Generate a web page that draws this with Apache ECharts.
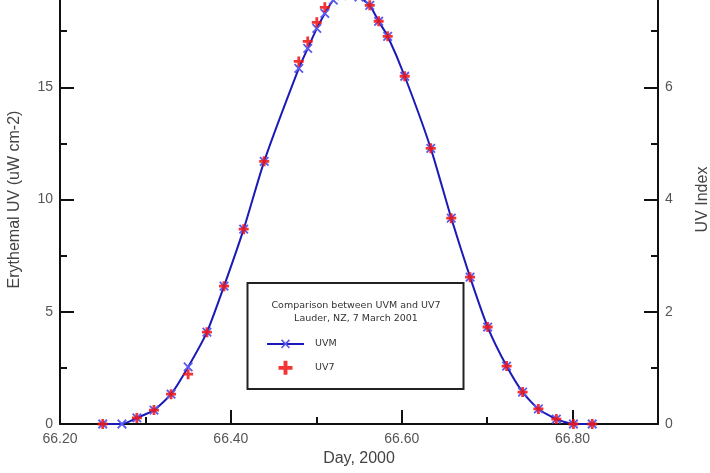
<!DOCTYPE html>
<html>
<head>
<meta charset="utf-8">
<script src="https://cdn.jsdelivr.net/npm/echarts@6/dist/echarts.min.js"></script>
<style>
  html, body { margin: 0; padding: 0; background: #fff; }
  #chart { width: 710px; height: 473px; }
</style>
</head>
<body>
<div id="chart"></div>
<script>
// ---- data ----
var uvmDay = [66.250, 66.2725, 66.290, 66.310, 66.330, 66.350, 66.372, 66.392, 66.415, 66.439,
              66.4795, 66.490, 66.5006, 66.510, 66.520, 66.530, 66.540, 66.550, 66.5626, 66.573,
              66.5836, 66.6035, 66.634, 66.658, 66.680, 66.7006, 66.7228, 66.7415, 66.760, 66.781,
              66.801, 66.823];
var uvmVal = [0.0, 0.0, 0.27, 0.62, 1.33, 2.54, 4.09, 6.14, 8.68, 11.70,
              15.84, 16.73, 17.62, 18.29, 18.88, 19.08, 19.13, 19.02, 18.65, 17.94,
              17.27, 15.49, 12.28, 9.17, 6.54, 4.32, 2.58, 1.42, 0.67, 0.22,
              0.0, 0.0];
var uv7Day = [66.250, 66.290, 66.310, 66.330, 66.350, 66.372, 66.392, 66.415, 66.439,
              66.4795, 66.490, 66.5006, 66.510, 66.5626, 66.573, 66.5836, 66.6035, 66.634,
              66.658, 66.680, 66.7006, 66.7228, 66.7415, 66.760, 66.781, 66.801, 66.823];
var uv7Val = [0.0, 0.27, 0.62, 1.33, 2.22, 4.09, 6.14, 8.68, 11.70,
              16.15, 17.04, 17.89, 18.56, 18.65, 17.94, 17.27, 15.49, 12.28,
              9.17, 6.54, 4.32, 2.58, 1.42, 0.67, 0.22, 0.0, 0.0];
var legendTitle = ['Comparison between UVM and UV7', 'Lauder, NZ, 7 March 2001'];
var xName = 'Day, 2000';
var yLeftName = 'Erythemal UV (uW cm-2)';
var yRightName = 'UV Index';

function pairs(xs, ys) { return xs.map(function (x, i) { return [x, ys[i]]; }); }

var FONT = 'Liberation Sans, Arial, sans-serif';
var crossPath = 'path://M4.25,0H5.75V4.25H10V5.75H5.75V10H4.25V5.75H0V4.25H4.25Z';
var plusPath = 'path://M3.6,0H6.4V3.6H10V6.4H6.4V10H3.6V6.4H0V3.6H3.6Z';

function axisCommon() {
  return {
    axisLine: { show: true, onZero: false, lineStyle: { color: '#111', width: 2 } },
    axisTick: { show: true, inside: true, length: 14, lineStyle: { color: '#111', width: 2 } },
    minorTick: { show: true, splitNumber: 2, length: 7, lineStyle: { color: '#111', width: 2 } },
    splitLine: { show: false },
    minorSplitLine: { show: false }
  };
}

var chart = echarts.init(document.getElementById('chart'), null, { renderer: 'canvas' });
var xa = axisCommon();
var yl = axisCommon();
var yr = axisCommon();

chart.setOption({
  animation: false,
  backgroundColor: '#fff',
  grid: { left: 60, right: 52, top: -25, bottom: 49, containLabel: false, outerBoundsMode: 'none' },
  xAxis: Object.assign(xa, {
    type: 'value', min: 66.2, max: 66.9, interval: 0.2, position: 'bottom',
    name: xName, nameLocation: 'middle', nameGap: 24,
    nameTextStyle: { fontFamily: FONT, fontSize: 16, color: '#444' },
    axisLabel: {
      fontFamily: FONT, fontSize: 14, color: '#555', margin: 8,
      formatter: function (v) { return Math.round(v * 100) % 20 === 0 ? v.toFixed(2) : ''; }
    }
  }),
  yAxis: [
    Object.assign(yl, {
      type: 'value', min: 0, max: 20, interval: 5, position: 'left',
      name: yLeftName, nameLocation: 'middle', nameGap: 37, nameRotate: 90,
      nameTextStyle: { fontFamily: FONT, fontSize: 16, color: '#444' },
      axisLabel: { fontFamily: FONT, fontSize: 14, color: '#555', margin: 7 }
    }),
    Object.assign(yr, {
      type: 'value', min: 0, max: 8, interval: 2, position: 'right',
      name: yRightName, nameLocation: 'middle', nameGap: 37, nameRotate: 90,
      nameTextStyle: { fontFamily: FONT, fontSize: 16, color: '#444' },
      axisLabel: { fontFamily: FONT, fontSize: 14, color: '#555', margin: 7 }
    })
  ],
  legend: {
    show: true, orient: 'vertical', left: 266, top: 336,
    itemWidth: 37, itemHeight: 14, itemGap: 9, z: 10,
    padding: 0,
    textStyle: { fontFamily: 'DejaVu Sans, sans-serif', fontSize: 9.5, color: '#333', padding: [0, 0, 0, 6] },
    data: ['UVM', 'UV7']
  },
  graphic: [
    { type: 'rect', z: 3, shape: { x: 247.5, y: 283, width: 216, height: 106 },
      style: { fill: '#fff', stroke: '#222', lineWidth: 2 } },
    { type: 'text', z: 11, x: 356, y: 306,
      style: { text: legendTitle[0], fontFamily: 'DejaVu Sans, sans-serif', fontSize: 9.5, fill: '#333',
               textAlign: 'center', textVerticalAlign: 'middle' } },
    { type: 'text', z: 11, x: 356, y: 319,
      style: { text: legendTitle[1], fontFamily: 'DejaVu Sans, sans-serif', fontSize: 9.5, fill: '#333',
               textAlign: 'center', textVerticalAlign: 'middle' } }
  ],
  series: [
    {
      name: 'UVM', type: 'line', xAxisIndex: 0, yAxisIndex: 0,
      data: pairs(uvmDay, uvmVal),
      smooth: 0.2, showAllSymbol: true,
      symbol: crossPath, symbolSize: 12, symbolRotate: 45,
      lineStyle: { color: '#1a1ab8', width: 2 },
      itemStyle: { color: '#5a5aee' },
      z: 2
    },
    {
      name: 'UV7', type: 'scatter', xAxisIndex: 0, yAxisIndex: 0,
      data: pairs(uv7Day, uv7Val),
      symbol: plusPath, symbolSize: 10,
      itemStyle: { color: '#f01010', opacity: 0.85 },
      z: 3
    }
  ]
});
</script>
</body>
</html>
